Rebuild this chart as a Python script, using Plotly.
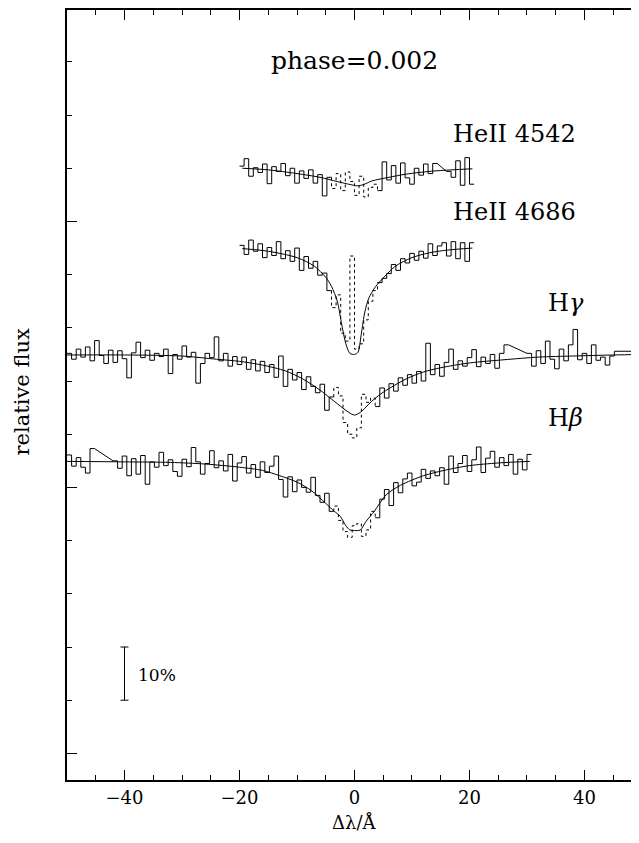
import numpy as np
import plotly.graph_objects as go

# ---------------- data (relative flux, offset per line) ----------------
BIN = 0.8  # Angstrom per spectral bin

# HeII 4542
he4542_start = -19.6
he4542_flux = [1.104, 1.118, 1.085, 1.101, 1.092, 1.108, 1.071, 1.103, 1.094, 1.109,
               1.086, 1.100, 1.072, 1.095, 1.081, 1.097, 1.072, 1.088, 1.048, 1.083,
               1.062, 1.090, 1.058, 1.093, 1.075, 1.049, 1.085, 1.046, 1.064, 1.070,
               1.058, 1.112, 1.078, 1.105, 1.072, 1.110, 1.082, 1.070, 1.100, 1.087,
               1.108, 1.090, 1.109, None, None, 1.094, 1.083, 1.114, 1.068, 1.120,
               1.070]
he4542_fit_x = [-19.5, -15, -10, -6, -3, -1, 0.5, 1.5, 3, 6, 9, 14, 20.5]
he4542_fit_y = [1.100, 1.097, 1.090, 1.083, 1.075, 1.070, 1.067, 1.069, 1.076, 1.083, 1.089, 1.095, 1.099]

# HeII 4686
he4686_start = -19.6
he4686_flux = [0.955, 0.938, 0.965, 0.944, 0.958, 0.932, 0.951, 0.936, 0.962, 0.930,
               0.945, 0.925, 0.950, 0.908, 0.934, 0.912, 0.925, 0.899, 0.903, 0.870,
               0.838, 0.862, 0.790, 0.775, 0.935, 0.760, 0.770, 0.815, 0.850, 0.870,
               0.885, 0.893, 0.902, 0.919, 0.908, 0.930, 0.922, 0.940, 0.927, 0.944,
               0.931, 0.958, 0.936, 0.954, 0.960, 0.935, 0.962, 0.930, 0.960, 0.925,
               0.960]
he4686_fit_x = [-19.5, -15, -10, -7, -5, -4, -3, -2.2, -1.5, -0.8, 0, 0.6, 1.2, 1.8, 2.5,
                3.5, 4.5, 7, 10, 13, 16, 20.5]
he4686_fit_y = [0.949, 0.944, 0.932, 0.916, 0.895, 0.878, 0.850, 0.805, 0.770, 0.752, 0.750,
                0.754, 0.790, 0.830, 0.856, 0.875, 0.888, 0.915, 0.932, 0.941, 0.946, 0.950]

# H gamma
hg_start = -49.6
hg_flux = [0.752, 0.741, 0.760, 0.745, 0.764, 0.738, 0.776, 0.748, 0.733, 0.758,
           0.735, 0.757, 0.742, 0.706, 0.753, 0.773, 0.744, 0.758, 0.739, 0.752,
           0.746, 0.760, 0.714, 0.750, 0.741, 0.766, 0.745, 0.754, 0.696, 0.733,
           0.752, 0.744, 0.783, 0.738, 0.752, 0.728, 0.746, 0.731, 0.745, 0.722,
           0.740, 0.719, 0.737, 0.716, 0.731, 0.707, 0.747, 0.690, 0.722, 0.702,
           0.716, 0.684, 0.708, 0.690, 0.678, 0.694, 0.645, 0.670, 0.688, 0.672,
           0.622, 0.600, 0.593, 0.612, 0.675, 0.660, 0.668, 0.652, 0.687, 0.668,
           0.695, 0.681, 0.706, 0.692, 0.712, 0.696, 0.718, 0.700, 0.771, 0.712,
           0.731, 0.709, 0.735, 0.760, 0.722, 0.738, 0.728, 0.744, 0.759, 0.727,
           0.745, 0.733, 0.750, 0.724, 0.752, 0.768, None, None, None, None,
           0.752, 0.728, 0.757, 0.733, 0.775, 0.741, 0.723, 0.760, 0.738, 0.768,
           0.797, 0.740, 0.752, 0.733, 0.768, 0.739, 0.745, 0.730, 0.747, 0.756,
           0.756, 0.756, 0.756, 0.756, 0.756]
hg_fit_x = [-50, -40, -30, -24, -20, -16, -12, -9, -6, -4, -2, -1, 0, 1, 2, 3, 5, 9, 12,
            15, 20, 26, 32, 38, 45, 50]
hg_fit_y = [0.749, 0.749, 0.747, 0.741, 0.737, 0.730, 0.719, 0.704, 0.683, 0.666, 0.649,
            0.641, 0.636, 0.641, 0.651, 0.662, 0.679, 0.704, 0.717, 0.725, 0.734, 0.740,
            0.745, 0.747, 0.749, 0.750]

# H beta
hb_start = -49.6
hb_flux = [0.561, 0.540, 0.556, 0.538, 0.527, 0.573, None, None, None, None,
           0.550, 0.536, 0.559, 0.522, 0.554, 0.525, 0.560, 0.506, 0.548, 0.538,
           0.566, 0.541, 0.552, 0.530, 0.521, 0.553, 0.539, 0.575, 0.548, 0.525,
           0.545, 0.569, 0.537, 0.550, 0.531, 0.562, 0.512, 0.546, 0.558, 0.527,
           0.543, 0.519, 0.548, 0.528, 0.540, 0.559, 0.515, 0.482, 0.520, 0.492,
           0.514, 0.500, 0.491, 0.519, 0.485, 0.472, 0.489, 0.455, 0.465, 0.438,
           0.417, 0.406, 0.428, 0.432, 0.408, 0.420, 0.455, 0.443, 0.478, 0.496,
           0.466, 0.509, 0.490, 0.516, 0.527, 0.503, 0.510, 0.534, 0.517, 0.531,
           0.522, 0.537, 0.506, 0.559, 0.528, 0.545, 0.560, 0.530, 0.552, 0.576,
           0.528, 0.555, 0.568, 0.538, 0.556, 0.541, 0.562, 0.525, 0.553, 0.533,
           0.562]
hb_fit_x = [-50, -40, -32, -26, -20, -16, -13, -10, -7.5, -5, -3.5, -2.5, -1.5, -0.8, 0,
            1, 2, 3.5, 5.5, 8, 12, 16, 20, 25, 30.5]
hb_fit_y = [0.549, 0.548, 0.547, 0.544, 0.538, 0.532, 0.522, 0.510, 0.494, 0.470, 0.455,
            0.446, 0.428, 0.420, 0.419, 0.420, 0.436, 0.456, 0.486, 0.504, 0.522, 0.533,
            0.541, 0.546, 0.549]

CORE = 3.7  # half-width of the masked line core (drawn dotted)

line_labels = ["HeII 4542", "HeII 4686", "H<i>γ</i>", "H<i>β</i>"]
label_x = [27.9, 27.9, 36.75, 36.75]
label_y = [1.165, 1.018, 0.847, 0.630]

phase_text = "phase=0.002"
phase_x, phase_y = 0.0, 1.303

scale_x, scale_mid, scale_half = -40.0, 0.15, 0.05
scale_text = "10%"

FONT = "DejaVu Serif"


def step_paths(start, flux, core):
    solid_x, solid_y, dot_x, dot_y = [], [], [], []
    prev = None
    for i, y in enumerate(flux):
        if y is None:
            continue
        xc = start + BIN * i
        lft, rgt = xc - BIN / 2, xc + BIN / 2
        c = abs(xc) < core
        if c:
            if prev is not None and not prev[0]:
                dot_x.append(prev[1]); dot_y.append(prev[2])
            dot_x += [lft, rgt]; dot_y += [y, y]
        else:
            if prev is not None and prev[0]:
                dot_x += [lft, None]; dot_y += [y, None]
                solid_x.append(None); solid_y.append(None)
            solid_x += [lft, rgt]; solid_y += [y, y]
        prev = (c, rgt, y)
    return solid_x, solid_y, dot_x, dot_y


fig = go.Figure()
spectra = [
    (he4542_start, he4542_flux, he4542_fit_x, he4542_fit_y),
    (he4686_start, he4686_flux, he4686_fit_x, he4686_fit_y),
    (hg_start, hg_flux, hg_fit_x, hg_fit_y),
    (hb_start, hb_flux, hb_fit_x, hb_fit_y),
]
for start, flux, fx, fy in spectra:
    sx, sy, dx, dy = step_paths(start, flux, CORE)
    fig.add_trace(go.Scatter(x=sx, y=sy, mode="lines",
                             line=dict(color="black", width=1)))
    fig.add_trace(go.Scatter(x=dx, y=dy, mode="lines",
                             line=dict(color="black", width=1, dash="dot")))
    fig.add_trace(go.Scatter(x=fx, y=fy, mode="lines",
                             line=dict(color="black", width=1, shape="spline", smoothing=0.8)))

# 10% scale bar
fig.add_trace(go.Scatter(x=[scale_x], y=[scale_mid], mode="markers",
                         marker=dict(size=1, color="rgba(0,0,0,0)"),
                         error_y=dict(type="constant", value=scale_half, width=4,
                                      thickness=1, color="black")))

ann = []
for t, x, y in zip(line_labels, label_x, label_y):
    ann.append(dict(x=x, y=y, text=t, showarrow=False, xanchor="center", yanchor="middle",
                    font=dict(family=FONT, size=24, color="black")))
ann.append(dict(x=phase_x, y=phase_y, text=phase_text, showarrow=False, xanchor="center",
                yanchor="middle", font=dict(family=FONT, size=25, color="black")))
ann.append(dict(x=-38.0, y=0.147, text=scale_text, showarrow=False, xanchor="left",
                yanchor="middle", font=dict(family=FONT, size=17, color="black")))
ann.append(dict(x=0, xref="x", y=-0.0555, yref="paper", text="Δλ/Å", showarrow=False,
                xanchor="center", yanchor="middle", font=dict(family=FONT, size=18, color="black")))
ann.append(dict(x=-0.0795, xref="paper", y=0.504, yref="paper", text="relative flux",
                showarrow=False, textangle=-90, xanchor="center", yanchor="middle",
                font=dict(family=FONT, size=21, color="black")))

fig.update_layout(
    width=631, height=827,
    margin=dict(l=59, r=0, t=0, b=55),
    paper_bgcolor="white", plot_bgcolor="white",
    showlegend=False,
    annotations=ann,
    xaxis=dict(range=[-50, 49.48], tick0=0, dtick=20, ticks="inside", ticklen=10,
               tickwidth=1, tickcolor="black", showline=True, linewidth=2, linecolor="black",
               mirror="ticks", showgrid=False, zeroline=False,
               tickfont=dict(family=FONT, size=18, color="black"),
               minor=dict(dtick=5, ticks="inside", ticklen=5, tickwidth=1, tickcolor="black",
                          showgrid=False)),
    yaxis=dict(range=[-0.05, 1.3975], tick0=0, dtick=0.5, ticks="inside", ticklen=10,
               tickwidth=1, tickcolor="black", showline=True, linewidth=2, linecolor="black",
               showticklabels=False, showgrid=False, zeroline=False,
               minor=dict(dtick=0.1, ticks="inside", ticklen=5, tickwidth=1,
                          tickcolor="black", showgrid=False)),
    yaxis2=dict(overlaying="y", side="right", matches="y", range=[-0.05, 1.3975], tick0=0,
                dtick=0.5, ticks="inside", ticklen=6, tickwidth=1, tickcolor="black",
                showline=False, showticklabels=False, showgrid=False, zeroline=False,
                minor=dict(dtick=0.1, ticks="inside", ticklen=2, tickwidth=1,
                           tickcolor="black", showgrid=False)),
)
# dummy trace to activate right axis
fig.add_trace(go.Scatter(x=[None], y=[None], yaxis="y2", mode="lines"))

fig.write_html("out.html")
